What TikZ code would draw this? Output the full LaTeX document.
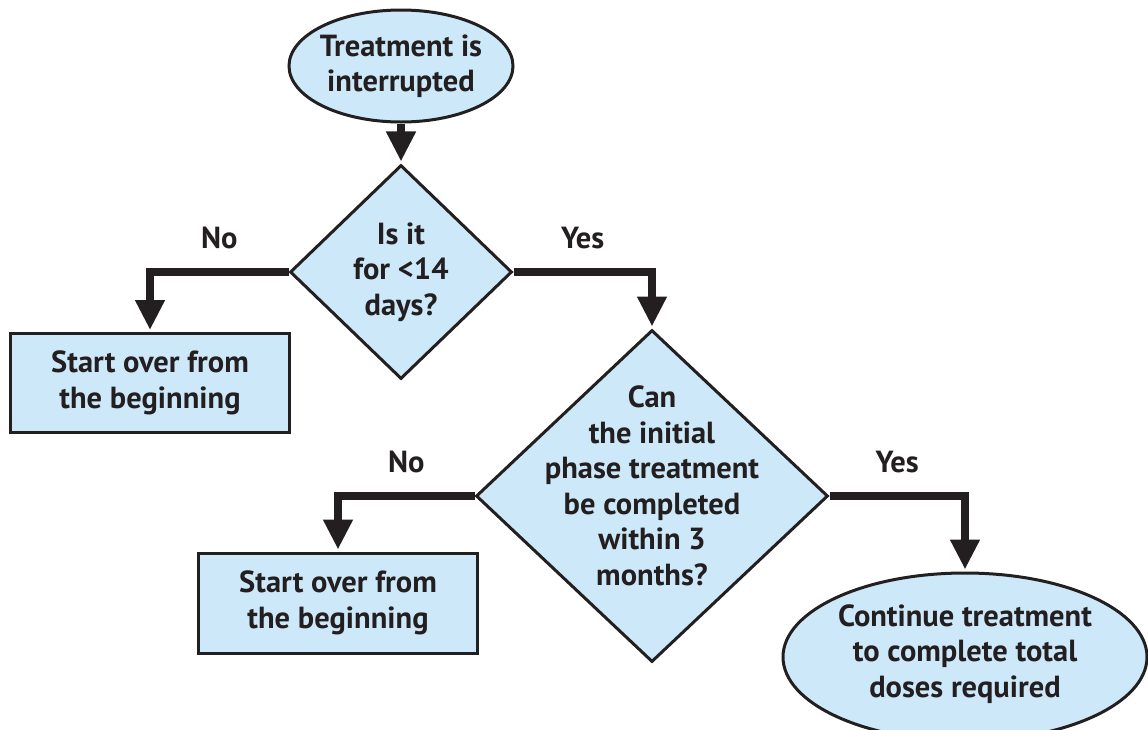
\documentclass[tikz,border=0pt]{standalone}
\usepackage{fontspec}
\setmainfont{PT Sans}
\usetikzlibrary{shapes.geometric,arrows.meta}
\definecolor{ink}{HTML}{231F20}
\definecolor{paleblue}{HTML}{CDE9F9}
\tikzset{txt/.style={text=ink, font=\bfseries\fontsize{30.5}{35.5}\selectfont, align=center, inner sep=0pt},
box/.style={rectangle, draw=ink, line width=3pt, fill=paleblue, inner sep=0pt, txt},
oval/.style={ellipse, draw=ink, line width=3pt, fill=paleblue, inner sep=0pt},
decision/.style={diamond, draw=ink, line width=3pt, fill=paleblue, inner sep=0pt},
flow/.style={draw=ink, line width=7.5pt, -{Triangle[length=30pt,width=28pt]}, shorten >=2pt},
%answers sit above the first leg of an elbow
answer/.style={txt, above=19pt, pos=.25}}

\begin{document}
\begin{tikzpicture}[x=1pt, y=-1pt]
\useasboundingbox (0,0) rectangle (1148,729);

\node[oval, minimum width=224pt, minimum height=112pt] (start) at (401, 66) {};
\node[decision, minimum width=222pt, minimum height=214pt] (q1) at (401, 272) {};
\node[decision, minimum width=352pt, minimum height=332pt] (q2) at (652, 496) {};
\node[box, minimum width=279pt, minimum height=99pt] (restartA) at (150, 383) {Start over from\\the beginning};
\node[box, minimum width=279pt, minimum height=100pt] (restartB) at (338, 603) {Start over from\\the beginning};
\node[oval, minimum width=364pt, minimum height=168pt] (goon) at (965, 657) {};

\node[txt] (start-t) at (start) {Treatment is\\interrupted};
\node[txt] (q1-t) at (q1) {Is it\\for <14\\days?};
\node[txt, yshift=10pt] (q2-t) at (q2) {Can\\the initial\\phase treatment\\be completed\\within 3\\months?};
\node[txt, yshift=3pt] (goon-t) at (goon) {Continue treatment\\to complete total\\doses required};

\draw[flow] (start) -- (q1);
\draw[flow] (q1.west) -| node[answer] (no1) {No} (restartA.north);
\draw[flow] (q1.east) -| node[answer] (yes1) {Yes} (q2.north);
\draw[flow] (q2.west) -| node[answer] (no2) {No} (restartB.north);
\draw[flow] (q2.east) -| node[answer] (yes2) {Yes} (goon.north);

\end{tikzpicture}
\end{document}
